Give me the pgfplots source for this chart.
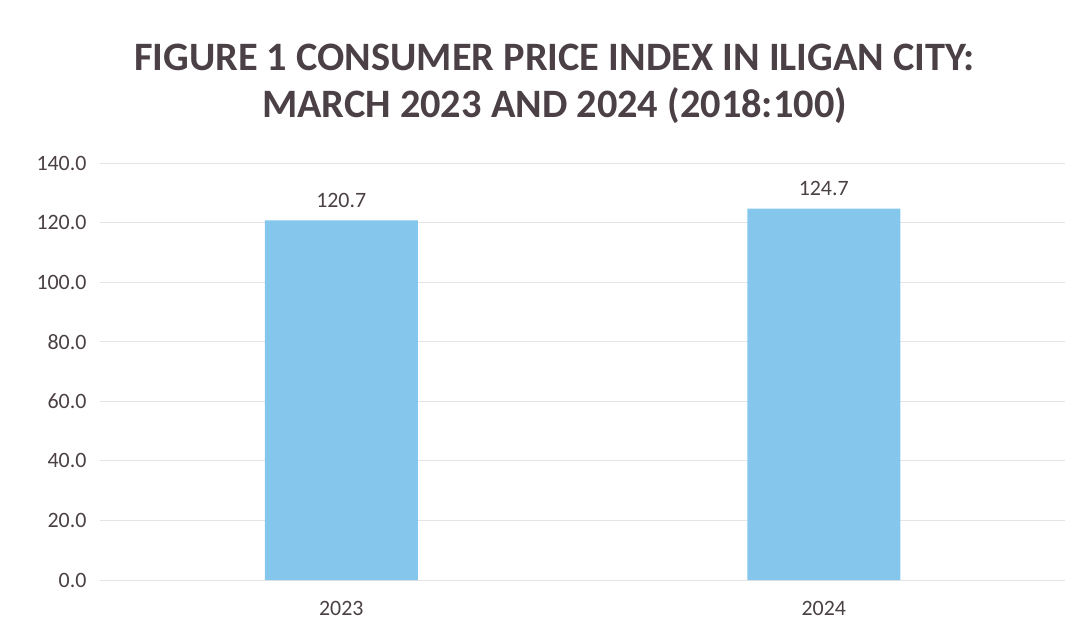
\documentclass[border=0pt]{standalone}
\usepackage{pgfplots}
\pgfplotsset{compat=1.18}
\usepackage{fontspec}
\setmainfont{Carlito}
\definecolor{barblue}{HTML}{84C6EC}
\definecolor{txtgrey}{HTML}{4A4045}
\definecolor{gridgrey}{HTML}{E4E4E4}
\begin{document}
\begin{tikzpicture}
\begin{axis}[
  name=ax,
  scale only axis,
  width=965bp, height=417bp,
  xmin=-0.5, xmax=1.5,
  ymin=0, ymax=140,
  ytick={0,20,...,140},
  xtick=data,
  xticklabels={2023,2024},
  axis line style={draw=none},
  major tick length=0pt,
  ymajorgrids,
  grid style={gridgrey, line width=0.8bp},
  yticklabel style={/pgf/number format/.cd, fixed, fixed zerofill, precision=1, /tikz/.cd, font=\fontsize{22}{26}\selectfont, text=txtgrey, xshift=-10bp},
  /pgf/number format/assume math mode=true,
  xticklabel style={font=\fontsize{22}{26}\selectfont, text=txtgrey, yshift=-18bp},
  ybar, bar width=153bp,
  nodes near coords,
  nodes near coords style={/pgf/number format/.cd, fixed, fixed zerofill, precision=1, /tikz/.cd, font=\fontsize{22}{26}\selectfont, text=txtgrey, yshift=9bp},
  clip=false,
]
\addplot[fill=barblue, draw=none] coordinates {(0,120.7) (1,124.7)};
\end{axis}
\node[font=\bfseries\fontsize{40.5}{47}\selectfont, text=txtgrey, align=center] at ([xshift=-28bp,yshift=79bp]ax.north) {FIGURE 1 CONSUMER PRICE INDEX IN ILIGAN CITY:\\MARCH 2023 AND 2024 (2018:100)};
\path ([xshift=-100bp,yshift=-63bp]ax.south west) rectangle ([xshift=16bp,yshift=163bp]ax.north east);
\end{tikzpicture}
\end{document}
